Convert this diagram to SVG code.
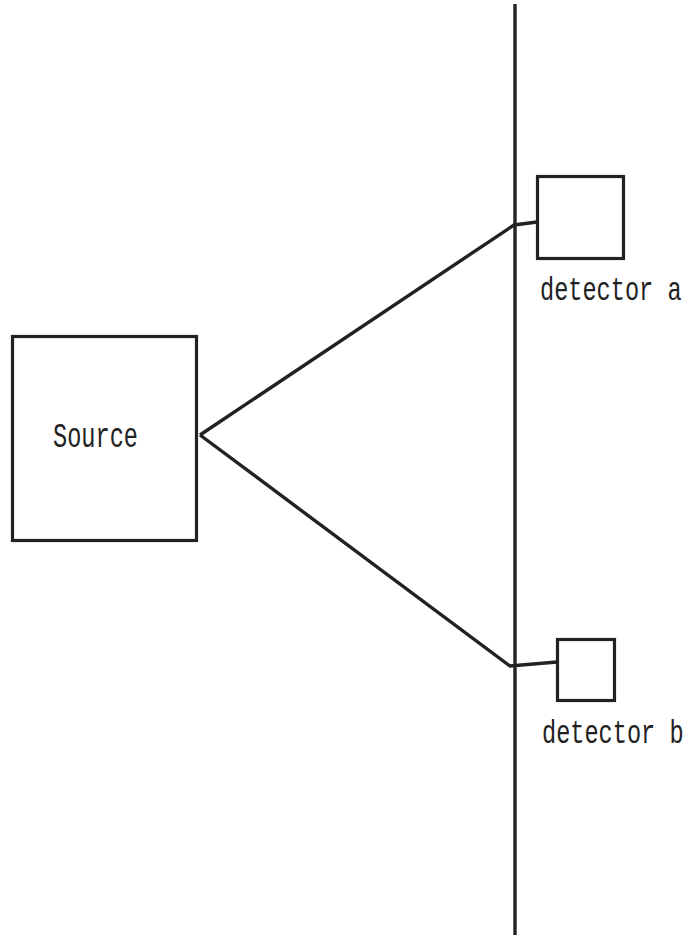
<svg xmlns="http://www.w3.org/2000/svg" width="690" height="938" viewBox="0 0 690 938">
  <style>
    .box { fill: #ffffff; stroke: #222222; stroke-width: 3.2; }
    .wire { fill: none; stroke: #222222; stroke-width: 3.4; stroke-linejoin: miter; }
    .lbl { font-family: "Liberation Mono", "DejaVu Sans Mono", monospace; font-size: 23.6px; fill: #222222; }
  </style>
  <rect x="0" y="0" width="690" height="938" fill="#ffffff"/>

  <!-- screen / baseline -->
  <g id="screen">
    <line class="wire" x1="515" y1="4" x2="515" y2="935"/>
  </g>

  <!-- connectors -->
  <g id="connectors">
    <polyline class="wire" points="200,435 514,225 537,222"/>
    <polyline class="wire" points="200,435 510,666 557,662"/>
  </g>

  <!-- labels use a narrow mono face stretched vertically -->
  <g id="source">
    <rect class="box" x="12.5" y="336.5" width="184" height="204"/>
    <text class="lbl" transform="translate(53,447) scale(1,1.5)">Source</text>
  </g>

  <g id="detector-a">
    <rect class="box" x="537.5" y="176.5" width="86" height="82"/>
    <text class="lbl" transform="translate(540,300) scale(1,1.38)">detector a</text>
  </g>

  <g id="detector-b">
    <rect class="box" x="557.5" y="639.5" width="57" height="61"/>
    <text class="lbl" transform="translate(542,743) scale(1,1.38)">detector b</text>
  </g>
</svg>
